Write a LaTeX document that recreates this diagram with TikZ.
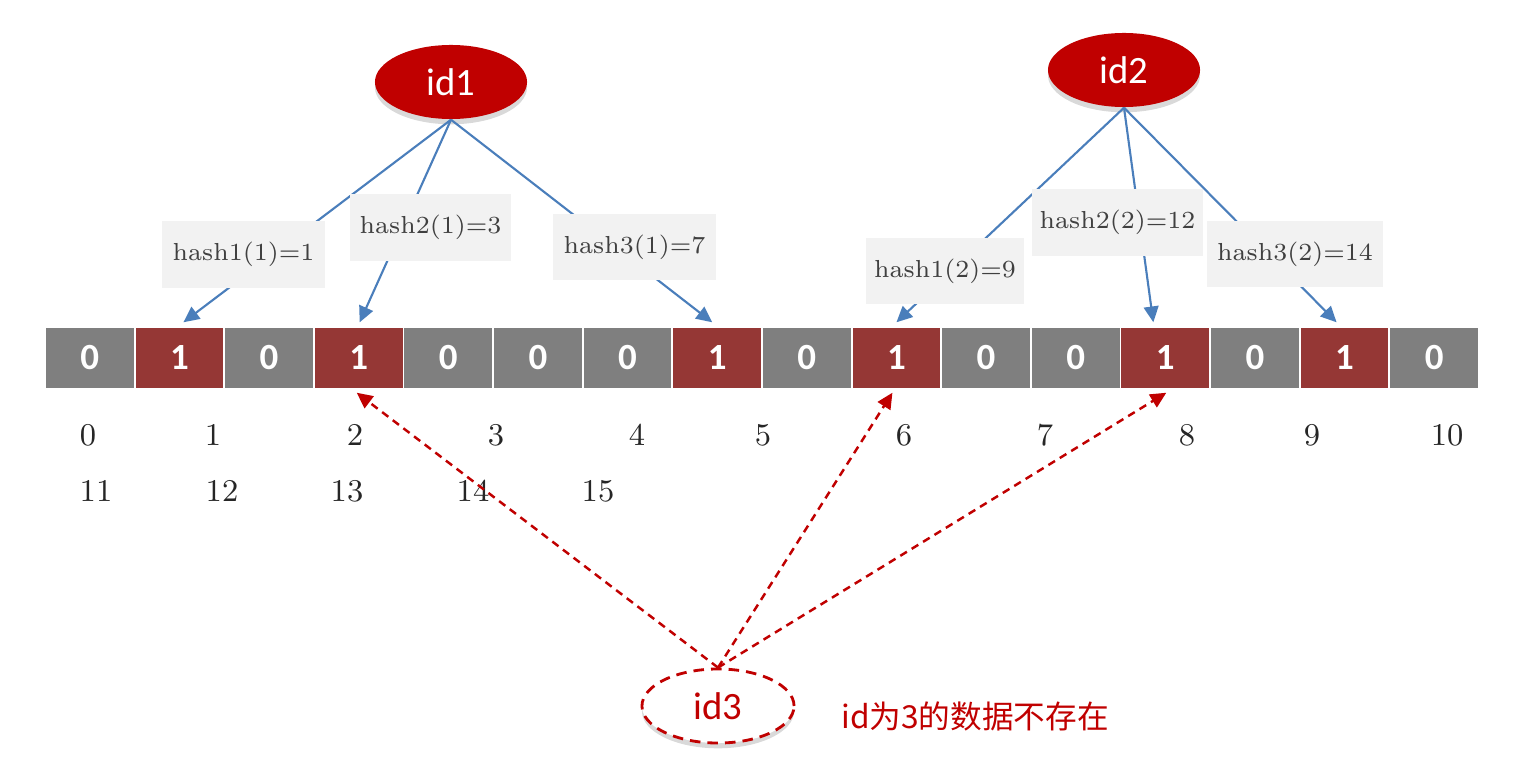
\documentclass[tikz,border=0pt]{standalone}
\usepackage{fontspec}
\newfontfamily\calibri{Carlito}
\newfontfamily\cjk{Noto Sans CJK SC}
\usetikzlibrary{arrows.meta, calc, shapes.geometric, shadows}
\definecolor{cellgrey}{HTML}{7F7F7F}
\definecolor{cellred}{HTML}{953735}
\definecolor{idred}{HTML}{C00000}
\definecolor{linkblue}{HTML}{4A7EBB}
\definecolor{boxgrey}{HTML}{F2F2F2}
\tikzset{
  cell/.style={fill=#1, minimum width=0.876cm, minimum height=0.6cm, inner sep=0pt,
    text=white, font=\calibri\bfseries\fontsize{10.5}{12}\selectfont},
  idnode/.style={ellipse, minimum width=1.52cm, minimum height=0.74cm, inner sep=0pt,
    font=\calibri\fontsize{11}{13}\selectfont,
    drop shadow={shadow xshift=0pt, shadow yshift=-1.5pt, opacity=0.3, fill=black!50}},
  hashbox/.style={fill=boxgrey, minimum height=0.66cm, inner sep=0pt, text=black!75,
    font=\fontsize{7}{8}\selectfont},
  idx/.style={text=black!85, inner sep=0pt, font=\fontsize{9}{10}\selectfont},
  link/.style={linkblue, semithick, -{Triangle[length=4.5pt, width=4.2pt]}},
  probe/.style={idred, line width=0.7pt, dash pattern=on 2.2pt off 1.6pt,
    -{Triangle[length=4.5pt, width=4.2pt]}},
}

\begin{document}
\begin{tikzpicture}[x=0.01cm, y=-0.01cm]
    \useasboundingbox (0,0) rectangle (1528,770);
    % bit array
    \foreach \v [count=\i from 0] in {0,1,0,1,0,0,0,1,0,1,0,0,1,0,1,0} {
      \ifnum\v=1 \def\cc{cellred}\else\def\cc{cellgrey}\fi
      \node[cell=\cc] (c\i) at ({89.8+89.625*\i},358) {\v};
    }
    % index numbers
    \foreach \t/\x/\y in {0/88/435, 1/213/435, 2/355/435, 3/496/435, 4/637/435,
        5/763/435, 6/904/435, 7/1045/435, 8/1187/435, 9/1312/435, 10/1447/435,
        11/96/491, 12/222/491, 13/347/491, 14/473/491, 15/598/491}
      \node[idx] (n\t) at (\x,\y) {\t};
    % elements
    \node[idnode, fill=idred, text=white] (id1) at (451,82) {id1};
    \node[idnode, fill=idred, text=white] (id2) at (1124,70) {id2};
    \node[idnode, fill=white, text=idred, draw=idred, line width=0.8pt,
      dash pattern=on 3pt off 2pt] (id3) at (718,706) {id3};
    \node[text=idred, font=\cjk\fontsize{9}{10}\selectfont] (note) at (975,716) {id为3的数据不存在};
    % hash functions
    \draw[link] (id1.south) -- ($(c1.north)+(4,-5)$);
    \draw[link] (id1.south) -- ($(c3.north)+(1,-5)$);
    \draw[link] (id1.south) -- ($(c7.north)+(-5,-5)$);
    \draw[link] (id2.south) -- ($(c9.north)+(0,-5)$);
    \draw[link] (id2.south) -- ($(c12.north)+(-12,-5)$);
    \draw[link] (id2.south) -- ($(c14.north)+(-8,-5)$);
    \node[hashbox, minimum width=1.63cm] (h11) at (243.5,254.5) {hash1(1)=1};
    \node[hashbox, minimum width=1.61cm] (h21) at (430.5,227.5) {hash2(1)=3};
    \node[hashbox, minimum width=1.63cm] (h31) at (634.5,247) {hash3(1)=7};
    \node[hashbox, minimum width=1.58cm] (h12) at (945,271) {hash1(2)=9};
    \node[hashbox, minimum width=1.71cm] (h22) at (1117.5,222.5) {hash2(2)=12};
    \node[hashbox, minimum width=1.76cm] (h32) at (1295,254) {hash3(2)=14};
    % lookup of id3
    \draw[probe] (id3.north) -- ($(c3.south)+(-2,4)$);
    \draw[probe] (id3.north) -- ($(c9.south)+(-4,4)$);
    \draw[probe] (id3.north) -- ($(c12.south)+(1,4)$);
  \end{tikzpicture}
\end{document}
